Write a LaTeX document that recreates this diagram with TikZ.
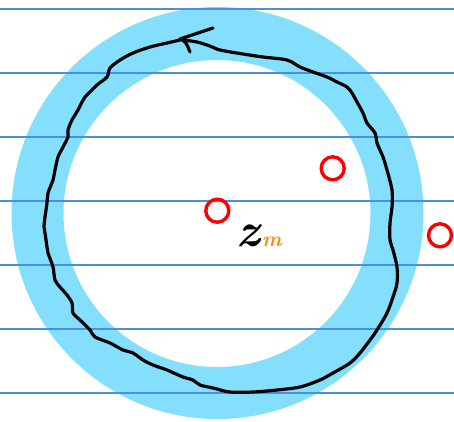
\documentclass[tikz,border=0pt]{standalone}
\usepackage{fontspec}
\usepackage{xcolor}
\definecolor{ringblue}{HTML}{84DFFC}
\definecolor{ruleblue}{HTML}{4A90E2}
\definecolor{zorange}{HTML}{FF8C00}
\tikzset{
  ruleline/.style={draw=ruleblue, line width=1.2pt},
  pole/.style={circle, draw=red, line width=3.4pt, minimum size=23pt, inner sep=0pt},
  loopline/.style={draw=black, line width=3.2pt, line cap=round, line join=round},
}
\begin{document}
\begin{tikzpicture}[x=1pt,y=-1pt]
\useasboundingbox (0,0) rectangle (454,421);
\fill[white] (0,0) rectangle (454,421);
% annulus
\fill[ringblue, even odd rule] (217.5,213) circle[radius=206] (217,213.5) circle[radius=153.5];
% ruled lines
\foreach \yy in {9,73,137,201,265,329,393}
  \draw[ruleline] (0,\yy) -- (454,\yy);
% poles
\node[pole] (p1) at (217.3,210.7) {};
\node[pole] (p2) at (332.7,168.3) {};
\node[pole] (p3) at (440,235.3) {};
% label
\node[inner sep=0pt, anchor=base west] (zm) at (236,246) {\fontsize{48}{48}\selectfont\bfseries\itshape z\kern2pt{\fontsize{21}{21}\selectfont\color{zorange}m}};
% contour
\draw[loopline] plot[smooth, tension=0.5] coordinates {
(180,40) (167,43) (150,47) (133,53) (120,60) (110,68) (107,77) (97,85) (85,97) (82,102) (78,110) (72,120) (68,130) (68,137) (63,147) (58,157) (55,170) (53,180) (48,193) (47,203) (45,217) (44,227) (45,233) (47,247) (48,253) (53,267) (55,280) (60,287) (67,295) (72,303) (73,313) (80,320) (90,330) (95,337) (110,343) (123,350) (133,353) (143,360) (153,365) (167,370) (183,377) (193,380) (200,385) (213,388) (230,392) (253,392) (277,390) (300,387) (320,380) (333,373) (350,363) (360,353) (370,340) (377,330) (387,313) (393,297) (397,283) (397,267) (393,250) (390,240) (390,223) (392,207) (392,190) (387,170) (383,157) (377,143) (375,133) (367,123) (363,113) (357,102) (352,93) (347,87) (337,82) (327,77) (313,72) (300,67) (287,60) (263,57) (243,54) (220,50) (210,46) (197,42) (183,40)};
\coordinate (tip) at (180,39);
\coordinate (w1) at (213,28);
\coordinate (w2) at (190,52);
\draw[loopline] (w1) -- (tip) .. controls (186,42) .. (w2);
\end{tikzpicture}
\end{document}
